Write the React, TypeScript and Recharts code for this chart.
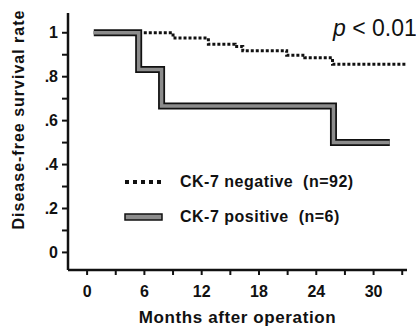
import { LineChart, Line, XAxis, YAxis } from 'recharts';

// Kaplan-Meier steps (months, survival)
const negMonths = [0.7, 9, 12.7, 15.5, 16.3, 20.9, 22.8, 25.7, 33.5];
const negValues = [1, 0.976, 0.948, 0.938, 0.918, 0.898, 0.886, 0.857, 0.857];
const posMonths = [0.7, 5.4, 7.8, 25.8, 31.7];
const posValues = [1, 0.833, 0.667, 0.5, 0.5];

const xTicks = [0, 3, 6, 9, 12, 15, 18, 21, 24, 27, 30, 33];
const xTickLabels = ['0', '', '6', '', '12', '', '18', '', '24', '', '30', ''];
const yTicks = [0, 0.1, 0.2, 0.3, 0.4, 0.5, 0.6, 0.7, 0.8, 0.9, 1];
const yTickLabels = ['0', '', '.2', '', '.4', '', '.6', '', '.8', '', '1'];

const negData = negMonths.map((m, i) => ({ month: m, rate: negValues[i] }));
const posData = posMonths.map((m, i) => ({ month: m, rate: posValues[i] }));

const font = '"Liberation Sans", Arial, sans-serif';
const tickStyle = { fill: '#111', fontSize: 16, fontWeight: 700, fontFamily: font };

export default function App() {
  return (
    <div style={{ position: 'absolute', left: 0, top: 0, width: 416, height: 331, background: '#fff', overflow: 'hidden' }}>
      <LineChart width={416} height={331} margin={{ top: 13, right: 9, left: 0, bottom: 0 }}>
        <XAxis
          type="number"
          dataKey="month"
          domain={[-2, 33.5]}
          ticks={xTicks}
          tickFormatter={(v: number) => xTickLabels[xTicks.indexOf(v)] ?? ''}
          tick={tickStyle}
          tickLine={{ stroke: '#111', strokeWidth: 2 }}
          tickSize={5}
          tickMargin={11}
          axisLine={{ stroke: '#111', strokeWidth: 2.5 }}
          height={61}
          allowDataOverflow
          label={{
            value: 'Months after operation',
            position: 'insideBottom',
            offset: 8,
            style: { fill: '#111', fontSize: 17, fontWeight: 700, fontFamily: font, letterSpacing: 0.6 },
          }}
        />
        <YAxis
          type="number"
          domain={[-0.08, 1.09]}
          ticks={yTicks}
          tickFormatter={(v: number) => yTickLabels[Math.round(v * 10)] ?? ''}
          tick={tickStyle}
          tickLine={{ stroke: '#111', strokeWidth: 2 }}
          tickSize={6}
          tickMargin={4}
          axisLine={{ stroke: '#111', strokeWidth: 2.5 }}
          width={68}
          allowDataOverflow
          label={{
            value: 'Disease-free survival rate',
            angle: -90,
            position: 'insideLeft',
            offset: 18,
            dy: -22,
            style: { fill: '#111', fontSize: 16, fontWeight: 700, fontFamily: font, letterSpacing: 1, textAnchor: 'middle' },
          }}
        />
        <Line
          data={negData}
          dataKey="rate"
          type="stepAfter"
          stroke="#111"
          strokeWidth={3}
          strokeDasharray="3 2"
          dot={false}
          isAnimationActive={false}
        />
        <Line
          data={posData}
          dataKey="rate"
          type="stepAfter"
          stroke="#111"
          strokeWidth={7}
          dot={false}
          isAnimationActive={false}
        />
        <Line
          data={posData}
          dataKey="rate"
          type="stepAfter"
          stroke="#8c8c8c"
          strokeWidth={3.5}
          dot={false}
          isAnimationActive={false}
        />
      </LineChart>

      <div style={{ position: 'absolute', left: 333, top: 15, fontFamily: font, fontSize: 23, color: '#111', whiteSpace: 'nowrap' }}>
        <i>p</i> &lt; 0.01
      </div>

      <div style={{ position: 'absolute', left: 124, top: 171, fontFamily: font, fontSize: 16, fontWeight: 700, color: '#111', letterSpacing: 0.5 }}>
        <div style={{ display: 'flex', alignItems: 'center', height: 22 }}>
          <svg width={40} height={8} style={{ marginRight: 16 }}>
            <line x1={1} y1={4} x2={38} y2={4} stroke="#111" strokeWidth={4} strokeDasharray="4 4" />
          </svg>
          <span style={{ whiteSpace: 'pre' }}>CK-7 negative  (n=92)</span>
        </div>
        <div style={{ display: 'flex', alignItems: 'center', height: 22, marginTop: 13 }}>
          <svg width={40} height={8} style={{ marginRight: 16 }}>
            <rect x={1} y={1} width={37} height={6} fill="#8c8c8c" stroke="#111" strokeWidth={1.5} />
          </svg>
          <span style={{ whiteSpace: 'pre' }}>CK-7 positive  (n=6)</span>
        </div>
      </div>
    </div>
  );
}
